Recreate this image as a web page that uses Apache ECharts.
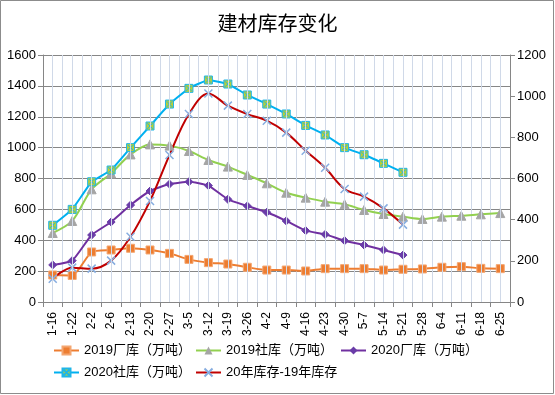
<!DOCTYPE html>
<html>
<head>
<meta charset="utf-8">
<script src="https://cdn.jsdelivr.net/npm/echarts@6/dist/echarts.min.js"></script>
<style>html,body{margin:0;padding:0;background:#fff}#c{width:555px;height:395px}</style>
</head>
<body>
<div id="c"></div>
<script>
var categories = ['1-16','1-22','2-2','2-6','2-13','2-20','2-27','3-5','3-12','3-19','3-26','4-2','4-9','4-16','4-23','4-30','5-7','5-14','5-21','5-28','6-4','6-11','6-18','6-25'];
var factory2019 = [175,172,324,337,348,337,315,276,255,246,225,207,207,201,216,216,216,207,212,214,225,229,218,216];
var social2019 = [447,525,730,833,956,1021,1013,978,920,877,823,769,708,676,650,633,596,570,553,538,553,559,568,576];
var factory2020 = [240,268,434,518,628,719,764,779,754,665,622,581,525,462,438,397,369,337,304];
var social2020 = [497,600,779,855,1000,1140,1282,1384,1438,1412,1341,1282,1218,1144,1082,1000,954,898,840];
var diff = [113,167,162,201,317,491,714,913,1013,954,913,881,823,735,652,549,512,455,376];
var leftTicks = {min:0,max:1600,interval:200};
var rightTicks = {min:0,max:1200,interval:200};
var names = ['2019厂库（万吨）','2019社库（万吨）','2020厂库（万吨）','2020社库（万吨）','20年库存-19年库存'];

var font = 'Liberation Sans, Noto Sans CJK SC, sans-serif';
var chart = echarts.init(document.getElementById('c'), null, {renderer:'canvas'});
var axisGray = '#868686';
var gridBlue = '#D0D9E8';
function legendAt(name, left, top){
  return {data:[name], left:left, top:top, itemWidth:25, itemHeight:10, itemGap:0,
    textStyle:{fontSize:13, color:'#000', fontFamily:font, padding:[0,0,0,0]}, padding:0};
}
function plain(v){ return String(v); }
var centerLines = categories.map(function(c){ return {xAxis:c}; });
chart.setOption({
  animation:false,
  backgroundColor:'#fff',
  title:{text:'建材库存变化', left:'center', top:8, textStyle:{fontSize:20, fontWeight:'normal', color:'#000', fontFamily:'Noto Sans CJK SC'}},
  graphic:[{type:'rect', shape:{x:0.5,y:0.5,width:553,height:393}, style:{fill:'none', stroke:'#8c8c8c', lineWidth:1}, silent:true}],
  legend:[
    legendAt(names[0],53,344),
    legendAt(names[1],195,344),
    legendAt(names[2],340,344),
    legendAt(names[3],53,366),
    legendAt(names[4],195,366)
  ],
  grid:{left:43, right:45, top:55, bottom:93, containLabel:false},
  xAxis:[{
    type:'category', data:categories, boundaryGap:true,
    axisLine:{lineStyle:{color:axisGray}},
    axisTick:{show:true, length:5, lineStyle:{color:axisGray}},
    axisLabel:{rotate:90, interval:0, fontSize:12, color:'#000', fontFamily:font, margin:10},
    splitLine:{show:true, interval:0, lineStyle:{color:gridBlue, width:1}}
  }],
  yAxis:[{
    type:'value', min:leftTicks.min, max:leftTicks.max, interval:leftTicks.interval,
    axisLine:{show:true, lineStyle:{color:axisGray}},
    axisTick:{show:true, length:5, lineStyle:{color:axisGray}},
    axisLabel:{fontSize:13, color:'#000', fontFamily:font, margin:7, formatter:plain},
    splitLine:{show:true, lineStyle:{color:axisGray, width:1}}
  },{
    type:'value', min:rightTicks.min, max:rightTicks.max, interval:rightTicks.interval, position:'right',
    axisLine:{show:true, lineStyle:{color:axisGray}},
    axisTick:{show:true, length:5, lineStyle:{color:axisGray}},
    axisLabel:{fontSize:13, color:'#000', fontFamily:font, margin:7, formatter:plain},
    splitLine:{show:false}
  }],
  series:[
    {type:'line', data:[], z:1, silent:true, symbol:'none',
      markLine:{silent:true, symbol:'none', label:{show:false}, lineStyle:{color:gridBlue, width:1, type:'solid'}, data:centerLines}},
    {name:names[0], type:'line', data:factory2019, smooth:0.2, symbol:'rect', symbolSize:8,
      lineStyle:{color:'#ED7D31', width:2}, itemStyle:{color:'#ED7D31', borderColor:'#F4A670', borderWidth:1}},
    {name:names[1], type:'line', data:social2019, smooth:0.3, symbol:'triangle', symbolSize:9,
      lineStyle:{color:'#92D050', width:2}, itemStyle:{color:'#A5A5A5', borderColor:'#A5A5A5'}},
    {name:names[2], type:'line', data:factory2020, smooth:0.15, symbol:'diamond', symbolSize:8,
      lineStyle:{color:'#7030A0', width:2}, itemStyle:{color:'#6A3CA8', borderColor:'#6A3CA8'}},
    {name:names[3], type:'line', data:social2020, smooth:0.1, symbol:'path://M0,0H10V10H0ZM1.5,1.5L8.5,8.5M8.5,1.5L1.5,8.5', symbolSize:8,
      lineStyle:{color:'#00B0F0', width:2}, itemStyle:{color:'#B5CF3A', borderColor:'#1FB5E8', borderWidth:1}},
    {name:names[4], type:'line', yAxisIndex:1, data:diff, smooth:0.35, symbol:'path://M0,0L10,10M10,0L0,10', symbolSize:8,
      lineStyle:{color:'#C00000', width:2}, itemStyle:{color:'rgba(0,0,0,0)', borderColor:'#86ADE0', borderWidth:1.5}}
  ]
});
</script>
</body>
</html>
